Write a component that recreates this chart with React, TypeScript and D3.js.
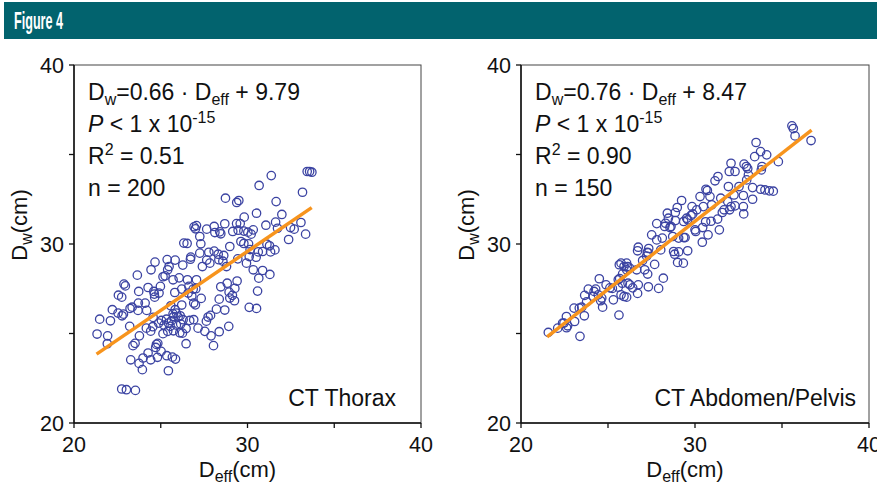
import React, { useEffect } from "react";
import * as d3 from "d3";

// [Deff, Dw]
const thoraxPoints: [number, number][] = [
  [33.44, 34.05], [33.58, 34.05], [33.71, 34.01], [31.37, 33.82], [30.67, 33.27],
  [33.17, 32.89], [28.73, 32.56], [29.38, 32.32], [29.5, 32.43], [31.65, 32.37],
  [30.52, 31.72], [29.81, 31.5], [31.98, 31.65], [33.08, 31.2], [33.35, 30.55],
  [31.62, 31.22], [31.06, 31.05], [29.37, 31.14], [29.58, 31.14], [26.92, 30.96],
  [27.06, 31.03], [27.0, 30.85], [27.65, 30.83], [28.08, 30.98], [28.69, 31.13],
  [28.12, 30.64], [28.4, 30.68], [28.46, 30.57], [29.15, 30.7], [29.46, 30.77],
  [29.79, 30.72], [30.02, 30.66], [30.21, 30.55], [29.62, 30.14], [29.79, 30.03],
  [30.06, 30.01], [26.33, 30.05], [26.52, 30.03], [27.31, 30.01], [28.98, 29.86],
  [32.37, 30.25], [31.73, 30.88], [32.48, 30.92], [32.69, 30.83], [31.12, 29.99],
  [31.27, 29.9], [30.87, 29.58], [30.62, 29.56], [31.33, 29.56], [31.58, 29.67],
  [30.15, 29.69], [26.73, 29.27], [26.71, 29.15], [27.77, 29.54], [28.08, 29.6],
  [27.65, 29.1], [28.31, 29.43], [28.63, 29.36], [28.35, 29.12], [28.58, 29.04],
  [27.83, 28.93], [25.37, 29.13], [25.83, 29.1], [26.27, 28.82], [25.4, 28.56],
  [25.13, 28.17], [25.25, 28.22], [26.06, 28.11], [24.67, 28.99], [24.44, 28.56],
  [23.65, 28.26], [22.88, 27.76], [22.96, 27.66], [22.56, 27.14], [22.75, 27.03],
  [22.21, 26.33], [22.1, 25.71], [21.48, 25.8], [21.33, 24.97], [21.94, 24.87],
  [21.92, 24.43], [22.77, 25.99], [22.85, 26.08], [23.35, 26.47], [23.23, 26.4],
  [23.71, 26.7], [23.69, 26.29], [24.19, 26.29], [23.73, 27.35], [24.27, 27.57],
  [24.6, 27.35], [24.63, 27.2], [24.65, 27.03], [24.98, 27.63], [25.81, 27.29],
  [26.21, 26.59], [26.54, 28.0], [26.62, 27.63], [26.87, 27.48], [27.02, 27.5],
  [26.79, 27.09], [27.33, 26.96], [26.9, 26.7], [27.0, 26.6], [28.46, 27.61],
  [28.94, 27.31], [29.13, 27.13], [28.98, 26.98], [29.4, 27.93], [29.27, 27.52],
  [29.25, 26.83], [28.37, 26.92], [28.21, 26.36], [28.69, 26.31], [30.1, 26.46],
  [30.52, 26.4], [30.58, 27.37], [30.65, 28.09], [30.33, 28.56], [30.87, 28.52],
  [31.29, 28.3], [24.56, 25.9], [24.54, 25.38], [24.42, 25.13], [24.75, 24.39],
  [24.83, 24.45], [24.71, 24.22], [25.02, 24.0], [24.17, 25.3], [23.77, 24.87],
  [23.52, 24.45], [23.4, 24.32], [23.27, 23.53], [23.75, 23.33], [23.98, 23.63],
  [24.27, 23.91], [24.42, 23.53], [24.81, 23.67], [23.94, 22.98], [25.35, 23.76],
  [25.67, 23.68], [25.85, 23.57], [25.44, 22.92], [22.75, 21.9], [23.02, 21.86],
  [23.54, 21.82], [24.88, 25.58], [25.04, 25.73], [25.19, 25.47], [25.33, 25.8],
  [25.44, 25.58], [25.54, 25.4], [25.62, 25.71], [25.73, 25.15], [25.9, 25.47],
  [26.15, 25.53], [26.0, 25.92], [26.1, 25.04], [26.25, 25.02], [25.71, 26.1],
  [25.83, 26.33], [26.12, 25.99], [26.29, 25.77], [26.46, 25.28], [26.67, 25.73],
  [26.9, 25.77], [27.15, 25.3], [27.54, 25.12], [27.63, 25.69], [27.73, 25.92],
  [27.87, 26.01], [27.9, 24.87], [28.04, 24.32], [28.37, 25.1], [28.92, 25.4],
  [26.46, 24.43], [25.13, 24.99], [25.4, 25.12], [25.75, 25.95], [26.58, 27.26],
  [26.21, 27.48], [25.58, 26.55], [25.9, 26.14], [25.71, 28.0], [25.48, 28.74],
  [27.06, 28.0], [27.4, 28.74], [28.79, 28.74], [27.25, 29.49], [30.1, 29.3],
  [30.5, 29.26], [29.94, 28.93], [29.44, 29.17], [28.83, 27.81], [24.9, 27.26],
  [23.21, 25.4], [22.54, 26.14], [24.1, 26.7], [27.25, 30.42], [30.33, 30.79],
];

const abdomenPoints: [number, number][] = [
  [35.57, 36.6], [35.65, 36.45], [35.75, 36.04], [36.67, 35.78], [33.51, 35.67],
  [33.43, 34.88], [33.77, 35.16], [34.12, 34.98], [34.79, 34.6], [32.07, 34.51],
  [32.82, 34.46], [32.95, 34.33], [33.03, 34.21], [33.85, 34.33], [33.81, 34.14],
  [31.97, 34.05], [32.3, 34.05], [31.32, 33.77], [31.15, 33.53], [33.07, 33.86],
  [32.97, 33.58], [31.92, 33.21], [32.53, 33.21], [32.24, 32.74], [33.31, 33.15],
  [33.77, 33.06], [34.02, 33.02], [34.27, 32.97], [34.5, 32.95], [30.63, 33.06],
  [30.71, 32.99], [30.29, 32.65], [32.78, 32.71], [33.31, 32.5], [32.78, 32.09],
  [32.8, 31.68], [32.3, 32.13], [31.48, 32.56], [31.88, 32.37], [31.67, 31.91],
  [31.99, 31.91], [31.57, 31.76], [32.07, 32.09], [30.96, 32.19], [30.48, 32.09],
  [30.1, 31.91], [31.3, 31.39], [31.4, 30.79], [29.23, 32.43], [28.98, 32.04],
  [28.87, 31.76], [28.41, 31.72], [27.8, 31.14], [28.31, 31.16], [28.56, 30.92],
  [28.87, 31.31], [29.35, 31.26], [29.52, 31.44], [29.77, 31.59], [29.87, 31.68],
  [29.58, 31.35], [30.0, 30.79], [30.04, 30.7], [30.44, 30.92], [30.61, 31.24],
  [30.92, 31.27], [30.75, 30.51], [30.42, 30.1], [27.51, 30.51], [27.34, 29.75],
  [28.03, 29.67], [28.12, 30.33], [28.26, 30.98], [28.62, 30.98], [28.72, 30.42],
  [28.77, 29.58], [28.83, 29.43], [29.06, 29.56], [29.35, 30.36], [29.43, 30.36],
  [29.58, 29.62], [29.33, 28.93], [29.0, 28.97], [29.06, 30.33], [26.74, 29.82],
  [26.7, 29.62], [27.26, 29.54], [27.22, 29.32], [27.3, 29.51], [27.68, 28.86],
  [26.99, 29.08], [27.11, 28.56], [27.28, 28.32], [27.32, 27.61], [27.91, 27.52],
  [28.18, 28.09], [25.65, 28.84], [25.75, 28.93], [25.92, 28.74], [26.07, 28.93],
  [26.07, 28.56], [26.13, 28.74], [26.25, 28.65], [25.84, 28.33], [25.67, 28.07],
  [25.59, 28.0], [25.82, 27.81], [26.15, 27.81], [26.07, 27.03], [25.92, 27.07],
  [25.75, 27.16], [25.59, 27.59], [26.26, 27.72], [26.74, 27.72], [26.42, 27.55],
  [26.7, 27.24], [25.25, 27.52], [25.11, 27.55], [25.31, 26.88], [25.63, 26.03],
  [24.5, 28.06], [24.29, 27.48], [24.44, 27.16], [24.64, 26.98], [24.58, 26.83],
  [24.69, 26.47], [23.87, 27.48], [23.66, 27.13], [23.77, 26.77], [24.16, 27.07],
  [24.2, 27.35], [23.49, 26.47], [23.35, 26.42], [23.64, 25.99], [23.39, 24.84],
  [23.08, 25.67], [22.61, 25.95], [22.68, 25.43], [22.62, 25.32], [22.47, 25.58],
  [22.11, 25.3], [21.57, 25.06], [22.39, 25.58], [24.89, 27.72], [27.8, 30.23],
  [28.47, 31.44], [29.83, 32.09], [30.86, 32.65], [26.65, 28.56], [23.05, 26.42],
];

const axisTicks = [20, 30, 40];
const minorTicks = [25, 35];

const thoraxFit = { slope: 0.66, intercept: 9.79, range: [21.3, 33.7] };
const abdomenFit = { slope: 0.76, intercept: 8.47, range: [21.5, 36.7] };

const thoraxStats = { slope: "0.66", intercept: "9.79", r2: "0.51", n: "200", name: "CT Thorax" };
const abdomenStats = { slope: "0.76", intercept: "8.47", r2: "0.90", n: "150", name: "CT Abdomen/Pelvis" };

const FONT = "'Liberation Sans', Arial, Helvetica, sans-serif";
const DOT = "#3b43a2";
const FIT = "#f7941d";

type PanelProps = {
  left: number;
  right: number;
  points: [number, number][];
  fit: { slope: number; intercept: number; range: number[] };
  stats: typeof thoraxStats;
  ylabelX: number;
  nameInset: number;
};

const Panel = ({ left, right, points, fit, stats, ylabelX, nameInset }: PanelProps) => {
  const top = 65;
  const bottom = 423;
  const x = d3.scaleLinear().domain([20, 40]).range([left, right]);
  const y = d3.scaleLinear().domain([20, 40]).range([bottom, top]);

  const fitLine = d3
    .line<number>()
    .x((d) => x(d))
    .y((d) => y(fit.slope * d + fit.intercept));

  const tx = left + 14; // annotation start
  const fs = 23;
  const sub = 16;

  return (
    <g fontFamily={FONT}>
      {/* frame */}
      <rect x={left} y={top} width={right - left} height={bottom - top} fill="none" stroke="#444" strokeWidth={1} />
      <line x1={left} x2={left} y1={top} y2={bottom} stroke="#111" strokeWidth={1.5} />
      <line x1={left} x2={right} y1={bottom} y2={bottom} stroke="#111" strokeWidth={1.5} />

      {/* ticks */}
      {axisTicks.concat(minorTicks).map((t) => (
        <g key={"t" + t}>
          <line x1={left - 5} x2={left} y1={y(t)} y2={y(t)} stroke="#111" strokeWidth={1.3} />
          <line x1={x(t)} x2={x(t)} y1={bottom} y2={bottom + 5} stroke="#111" strokeWidth={1.3} />
        </g>
      ))}
      {axisTicks.map((t) => (
        <g key={"l" + t} fontSize={21.5} fill="#111">
          <text x={left - 10} y={y(t)} dy="0.36em" textAnchor="end">{t}</text>
          <text x={x(t)} y={452} textAnchor="middle">{t}</text>
        </g>
      ))}

      {/* points */}
      {points.map((p, i) => (
        <circle key={i} cx={x(p[0])} cy={y(p[1])} r={4.2} fill="none" stroke={DOT} strokeWidth={1.3} />
      ))}

      <path d={fitLine(fit.range) || ""} stroke={FIT} strokeWidth={3.5} fill="none" />

      {/* annotations */}
      <g fontSize={fs} fill="#111">
        <text x={tx} y={100}>
          D<tspan fontSize={sub} dy={5}>w</tspan>
          <tspan dy={-5}>={stats.slope} · D</tspan>
          <tspan fontSize={sub} dy={5}>eff</tspan>
          <tspan dy={-5}> + {stats.intercept}</tspan>
        </text>
        <text x={tx} y={132}>
          <tspan fontStyle="italic">P</tspan> &lt; 1 x 10
          <tspan fontSize={sub} dy={-9}>-15</tspan>
        </text>
        <text x={tx} y={164}>
          R<tspan fontSize={sub} dy={-9}>2</tspan>
          <tspan dy={9}> = {stats.r2}</tspan>
        </text>
        <text x={tx} y={196}>n = {stats.n}</text>
        <text x={right - nameInset} y={406} textAnchor="end">{stats.name}</text>
      </g>

      {/* axis titles */}
      <text x={(left + right) / 2 - 10} y={477} fontSize={22} textAnchor="middle" fill="#111">
        D<tspan fontSize={sub} dy={5}>eff</tspan>
        <tspan dy={-5}>(cm)</tspan>
      </text>
      <text
        transform={`translate(${ylabelX},${(top + bottom) / 2 - 19}) rotate(-90)`}
        fontSize={22}
        textAnchor="middle"
        fill="#111"
      >
        D<tspan fontSize={sub} dy={5}>w</tspan>
        <tspan dy={-5}>(cm)</tspan>
      </text>
    </g>
  );
};

export default function App() {
  useEffect(() => {
    document.body.style.margin = "0";
  }, []);

  return (
    <svg width={877} height={483} style={{ position: "absolute", left: 0, top: 0, background: "#fff" }}>
      <rect x={4} y={2} width={873} height={37} fill="#02636e" />
      <text
        x={14}
        y={29}
        fontFamily="'Liberation Sans Narrow', 'Liberation Sans', Arial, sans-serif"
        fontWeight="bold"
        fontSize={23}
        fill="#fff"
        textLength={49}
        lengthAdjust="spacingAndGlyphs"
      >
        Figure 4
      </text>
      <Panel left={74} right={421} points={thoraxPoints} fit={thoraxFit} stats={thoraxStats} ylabelX={27} nameInset={25} />
      <Panel left={521} right={869} points={abdomenPoints} fit={abdomenFit} stats={abdomenStats} ylabelX={474} nameInset={13} />
    </svg>
  );
}
